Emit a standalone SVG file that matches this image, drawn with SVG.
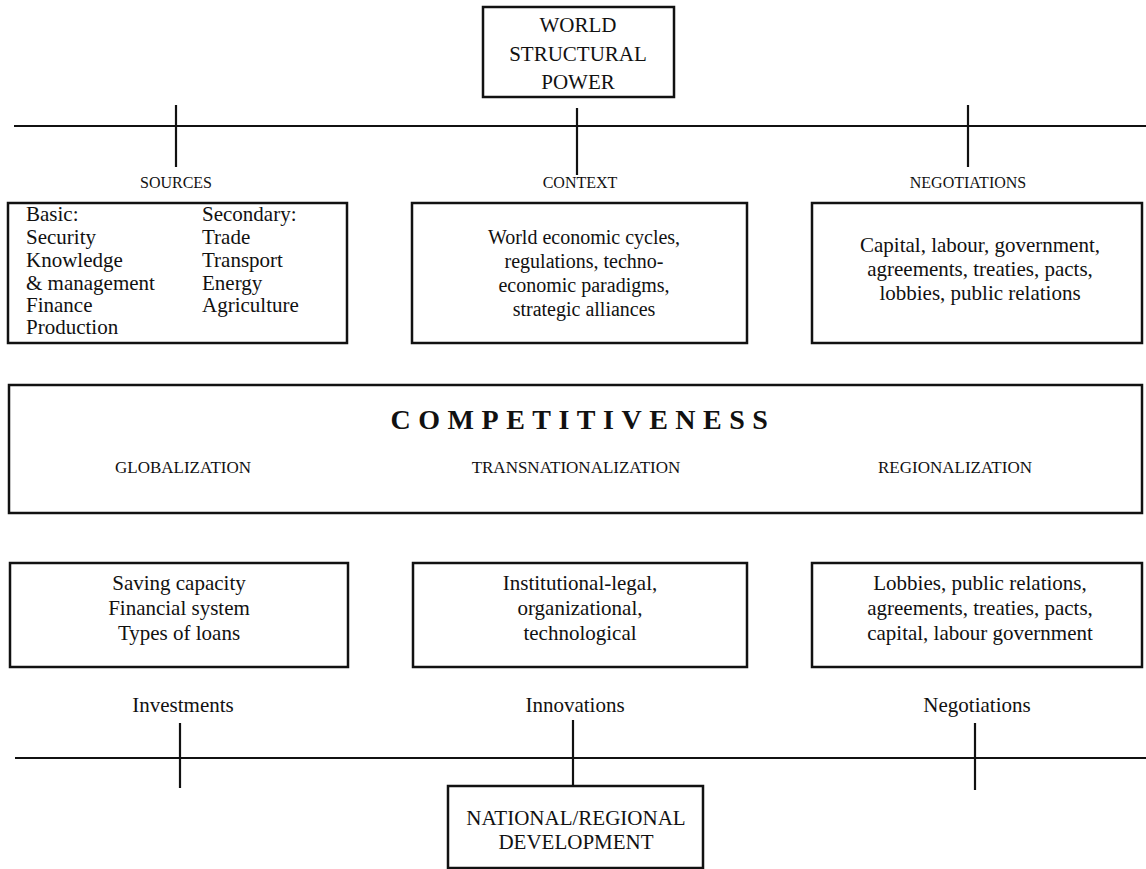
<svg xmlns="http://www.w3.org/2000/svg" width="1146" height="869" viewBox="0 0 1146 869">
<style>
.box{fill:none;stroke:#111;stroke-width:2.5}
.ln{stroke:#111;stroke-width:2.2;fill:none}
.t{font-family:"Liberation Serif","Times New Roman",serif;font-size:21px;fill:#111}
.t20{font-family:"Liberation Serif","Times New Roman",serif;font-size:20px;fill:#111}
.c{text-anchor:middle}
.lab{font-family:"Liberation Serif","Times New Roman",serif;font-size:16px;fill:#111;text-anchor:middle}
.lab2{font-family:"Liberation Serif","Times New Roman",serif;font-size:17px;fill:#111;text-anchor:middle}
.big{font-family:"Liberation Serif","Times New Roman",serif;font-size:28px;font-weight:bold;letter-spacing:7.5px;fill:#111;text-anchor:middle}
</style>
<rect width="1146" height="869" fill="#fff"/>
<g id="connectors">
<line class="ln" x1="14" y1="126" x2="1146" y2="126"/>
<line class="ln" x1="176" y1="105" x2="176" y2="167"/>
<line class="ln" x1="577" y1="108" x2="577" y2="175"/>
<line class="ln" x1="968" y1="105" x2="968" y2="167"/>
<line class="ln" x1="15" y1="758" x2="1146" y2="758"/>
<line class="ln" x1="180" y1="723" x2="180" y2="788"/>
<line class="ln" x1="573" y1="720" x2="573" y2="786"/>
<line class="ln" x1="975" y1="723" x2="975" y2="790"/>
</g>
<g id="world">
<rect class="box" x="483" y="7" width="191" height="90"/>
<text class="t c" x="578" y="32">WORLD</text>
<text class="t c" x="578" y="61">STRUCTURAL</text>
<text class="t c" x="578" y="89">POWER</text>
</g>
<g id="sources-label"><text class="lab" x="176" y="188">SOURCES</text></g>
<g id="context-label"><text class="lab" x="580" y="188">CONTEXT</text></g>
<g id="negotiations-label"><text class="lab" x="968" y="188">NEGOTIATIONS</text></g>
<g id="sources">
<rect class="box" x="8" y="203" width="339" height="140"/>
<text class="t" x="26" y="221">Basic:</text>
<text class="t" x="26" y="244">Security</text>
<text class="t" x="26" y="267">Knowledge</text>
<text class="t" x="26" y="290">&amp; management</text>
<text class="t" x="26" y="312">Finance</text>
<text class="t" x="26" y="334">Production</text>
<text class="t" x="202" y="221">Secondary:</text>
<text class="t" x="202" y="244">Trade</text>
<text class="t" x="202" y="267">Transport</text>
<text class="t" x="202" y="290">Energy</text>
<text class="t" x="202" y="312">Agriculture</text>
</g>
<g id="context">
<rect class="box" x="412" y="203" width="335" height="140"/>
<text class="t20 c" x="584" y="244">World economic cycles,</text>
<text class="t20 c" x="584" y="268">regulations, techno-</text>
<text class="t20 c" x="584" y="292">economic paradigms,</text>
<text class="t20 c" x="584" y="316">strategic alliances</text>
</g>
<g id="negotiations">
<rect class="box" x="812" y="203" width="330" height="140"/>
<text class="t c" x="980" y="252">Capital, labour, government,</text>
<text class="t c" x="980" y="276">agreements, treaties, pacts,</text>
<text class="t c" x="980" y="300">lobbies, public relations</text>
</g>
<g id="competitiveness">
<rect class="box" x="9" y="385" width="1133" height="128"/>
<text class="big" x="583" y="429">COMPETITIVENESS</text>
<text class="lab2" x="183" y="473">GLOBALIZATION</text>
<text class="lab2" x="576" y="473">TRANSNATIONALIZATION</text>
<text class="lab2" x="955" y="473">REGIONALIZATION</text>
</g>
<g id="investments-box">
<rect class="box" x="10" y="563" width="338" height="104"/>
<text class="t c" x="179" y="590">Saving capacity</text>
<text class="t c" x="179" y="615">Financial system</text>
<text class="t c" x="179" y="640">Types of loans</text>
</g>
<g id="innovations-box">
<rect class="box" x="413" y="563" width="334" height="104"/>
<text class="t c" x="580" y="590">Institutional-legal,</text>
<text class="t c" x="580" y="615">organizational,</text>
<text class="t c" x="580" y="640">technological</text>
</g>
<g id="negotiations-box">
<rect class="box" x="812" y="563" width="330" height="104"/>
<text class="t c" x="980" y="590">Lobbies, public relations,</text>
<text class="t c" x="980" y="615">agreements, treaties, pacts,</text>
<text class="t c" x="980" y="640">capital, labour government</text>
</g>
<g id="investments-label"><text class="t c" x="183" y="712">Investments</text></g>
<g id="innovations-label"><text class="t c" x="575" y="712">Innovations</text></g>
<g id="negotiations2-label"><text class="t c" x="977" y="712">Negotiations</text></g>
<g id="national">
<rect class="box" x="448" y="786" width="255" height="82"/>
<text class="t c" x="576" y="825">NATIONAL/REGIONAL</text>
<text class="t c" x="576" y="849">DEVELOPMENT</text>
</g>
</svg>
